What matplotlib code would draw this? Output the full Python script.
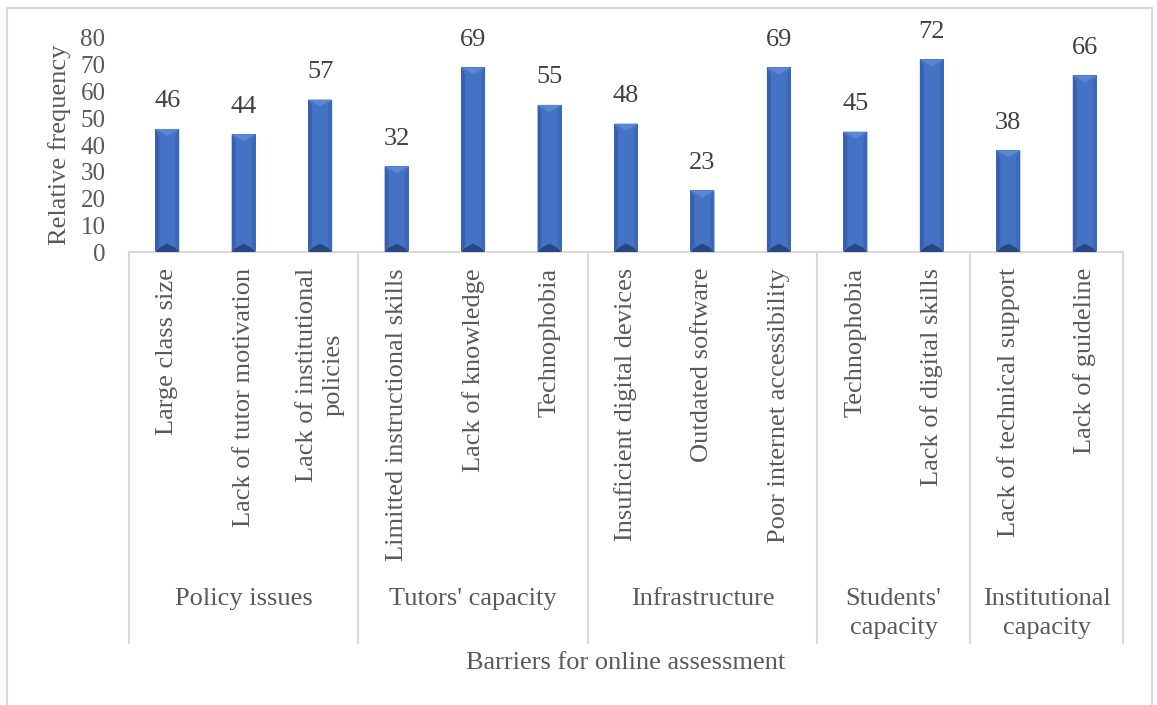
import matplotlib.pyplot as plt
from matplotlib.patches import Polygon, Rectangle
from matplotlib.lines import Line2D
import matplotlib.transforms as mtransforms

# Donnees
groupes = ['Policy issues', "Tutors' capacity", 'Infrastructure',
           "Students'\ncapacity", 'Institutional\ncapacity']
taille_groupes = [3, 3, 3, 2, 2]
barrieres = ['Large class size', 'Lack of tutor motivation',
             'Lack of institutional\npolicies',
             'Limitted instructional skills', 'Lack of knowledge', 'Technophobia',
             'Insuficient digital devices', 'Outdated software',
             'Poor internet accessibility',
             'Technophobia', 'Lack of digital skills',
             'Lack of technical support', 'Lack of guideline']
valeurs = [46, 44, 57, 32, 69, 55, 48, 23, 69, 45, 72, 38, 66]
yticks = [0, 10, 20, 30, 40, 50, 60, 70, 80]

plt.rcParams['font.family'] = ['Liberation Serif', 'DejaVu Serif']
gris = '#595959'
trait = '#D9D9D9'
fs = 19

W, H = 1157, 705
fig = plt.figure(figsize=(W / 100, H / 100), dpi=100)
ax = fig.add_axes([129 / W, 1 - 252 / H, (1123 - 129) / W, (252 - 38) / H])

n = len(valeurs)
x = list(range(n))
larg = 0.314
ax.bar(x, valeurs, width=larg, color='#4472C4', zorder=2)

# Effet biseau (facon Excel)
px = 1 / 76.5          # un pixel en unites x
py = 80 / 214          # un pixel en unites y
bx, by = 4 * px, 7 * py
for xi, v in zip(x, valeurs):
    x0, x1 = xi - larg / 2, xi + larg / 2
    ax.add_patch(Polygon([(x0, 0), (x0, v), (x0 + bx, v - by), (x0 + bx, by)],
                         color='#3660AC', lw=0, zorder=3))
    ax.add_patch(Polygon([(x1, 0), (x1, v), (x1 - bx, v - by), (x1 - bx, by)],
                         color='#3A67B6', lw=0, zorder=3))
    ax.add_patch(Polygon([(x0, v), (x1, v), (xi, v - by)],
                         color='#5A86D2', lw=0, zorder=3))
    ax.add_patch(Polygon([(x0, 0), (x1, 0), (x1 - bx, by * 0.6), (xi, by * 1.2),
                          (x0 + bx, by * 0.6)],
                         color='#27477F', lw=0, zorder=3))
    ax.annotate(str(v), (xi, v), xytext=(0, 12), textcoords='offset points',
                ha='center', va='bottom', fontsize=fs, color='#404040')

ax.set_xlim(-0.5, n - 0.5)
ax.set_ylim(0, 80)
ax.set_yticks(yticks)
ax.tick_params(axis='y', length=0, pad=17, labelsize=18, labelcolor=gris)
ax.set_xticks([])
for s in ['top', 'right', 'left']:
    ax.spines[s].set_visible(False)
ax.spines['bottom'].set_color(trait)
ax.spines['bottom'].set_linewidth(1.5)

fig.text(60 / W, 1 - 145 / H, 'Relative frequency', rotation=90,
         ha='center', va='center', fontsize=fs, color=gris)

# Etiquettes des barres et des groupes
tr = mtransforms.blended_transform_factory(ax.transData, fig.transFigure)
for xi, lab in zip(x, barrieres):
    fig.text(xi, 1 - 268 / H, lab, transform=tr, rotation=90, ha='center',
             va='top', multialignment='center', fontsize=fs, color=gris,
             linespacing=1.25)

debut = -0.5
bords = [debut]
for g, t in zip(groupes, taille_groupes):
    centre = debut + t / 2
    fig.text(centre, 1 - 588 / H, g, transform=tr, ha='center', va='top',
             multialignment='center', fontsize=fs, color=gris, linespacing=1.4)
    debut += t
    bords.append(debut)

for b in bords:
    fig.add_artist(Line2D([b, b], [1 - 252 / H, 1 - 643 / H], transform=tr,
                          color=trait, lw=1.5))

fig.text(0.5 * (129 + 1123) / W, 1 - 663 / H, 'Barriers for online assessment',
         ha='center', va='center', fontsize=fs, color=gris)

# Cadre du graphique
fig.add_artist(Rectangle((7 / W, -0.05), (1152 - 7) / W, 1.05 - 8 / H,
                         transform=fig.transFigure, fill=False,
                         edgecolor=trait, lw=1.5))

plt.savefig('out.png', dpi=100)
